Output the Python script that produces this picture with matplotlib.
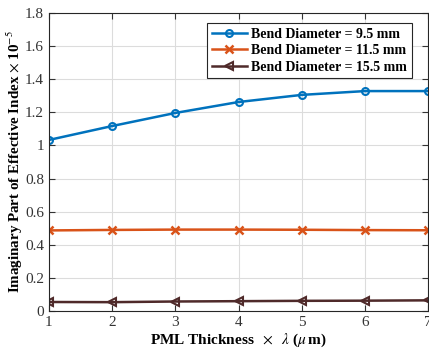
import matplotlib

matplotlib.use("Agg")
import matplotlib.pyplot as plt

plt.rcParams["font.family"] = ["Liberation Serif", "DejaVu Serif"]
plt.rcParams["mathtext.fontset"] = "stix"

thickness = [1, 2, 3, 4, 5, 6, 7]
imag_95 = [1.033, 1.117, 1.196, 1.262, 1.305, 1.328, 1.328]
imag_115 = [0.487, 0.490, 0.492, 0.492, 0.491, 0.489, 0.488]
imag_155 = [0.055, 0.054, 0.058, 0.060, 0.062, 0.063, 0.065]

fig = plt.figure(figsize=(4.29, 3.48), dpi=100)
ax = fig.add_axes([0.114, 0.106, 0.884, 0.857])

ax.plot(thickness, imag_95, color="#0072BD", marker="o", markersize=5, markerfacecolor="none",
        markeredgewidth=1.5, linewidth=1.8, label="Bend Diameter = 9.5 mm")
ax.plot(thickness, imag_115, color="#D95319", marker="x", markersize=6,
        markeredgewidth=1.8, linewidth=1.8, label="Bend Diameter = 11.5 mm")
ax.plot(thickness, imag_155, color="#4f2a2a", marker="<", markersize=5.5, markerfacecolor="none",
        markeredgewidth=1.5, linewidth=1.8, label="Bend Diameter = 15.5 mm")

ax.set_xlim(1, 7)
ax.set_ylim(0, 1.8)
ax.set_xticks(thickness)
ax.set_yticks([0, 0.2, 0.4, 0.6, 0.8, 1, 1.2, 1.4, 1.6, 1.8])
ax.set_yticklabels(["0", "0.2", "0.4", "0.6", "0.8", "1", "1.2", "1.4", "1.6", "1.8"])
ax.tick_params(direction="in", top=True, right=True, labelsize=11, colors="#333333", length=4)
for spine in ax.spines.values():
    spine.set_color("#262626")
ax.grid(color="#dcdcdc", linewidth=0.8)
ax.set_axisbelow(True)

ax.set_xlabel(r"PML Thickness $\ \times\ \ \lambda$ ($\mu\,$m)", fontsize=11, fontweight="bold", labelpad=2)
ax.set_ylabel(r"Imaginary Part of Effective Index $\times$ 10$^{-5}$", fontsize=10.8, fontweight="bold",
              labelpad=0)

leg = ax.legend(loc="upper right", bbox_to_anchor=(0.975, 0.99), fancybox=False, framealpha=1,
                edgecolor="#262626", prop={"weight": "bold", "size": 10}, handlelength=2.5,
                borderpad=0.35, labelspacing=0.25, handletextpad=0.3)
leg.get_frame().set_linewidth(0.8)

fig.savefig("out.png", dpi=100)
